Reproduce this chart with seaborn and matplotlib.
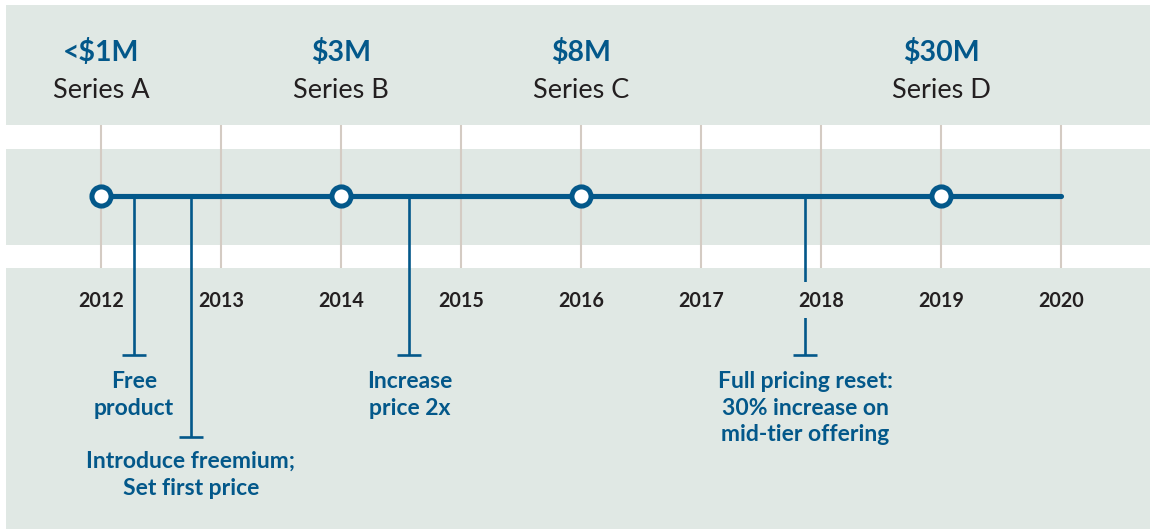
import matplotlib
matplotlib.use("Agg")
import matplotlib.pyplot as plt
import seaborn as sns
import pandas as pd

# ---- data ----
years = [2012, 2013, 2014, 2015, 2016, 2017, 2018, 2019, 2020]
year_labels = ["2012", "2013", "2014", "2015", "2016", "2017", "2018", "2019", "2020"]
funding_years = [2012, 2014, 2016, 2019]
funding_amounts = ["<$1M", "$3M", "$8M", "$30M"]
funding_rounds = ["Series A", "Series B", "Series C", "Series D"]
event_years = [2012.275, 2012.75, 2014.57, 2017.87]
event_labels = ["Free\nproduct", "Introduce freemium;\nSet first price",
                "Increase\nprice 2x", "Full pricing reset:\n30% increase on\nmid-tier offering"]
event_tiers = [1, 2, 1, 1]

# ---- style ----
sns.set_theme(style="white")
plt.rcParams['font.family'] = ['Lato', 'DejaVu Sans']

BLUE = "#03588a"
BAND = "#e0e8e4"
GRID = "#d4cbc3"
DARK = "#231f20"

W, H = 1150, 529
fig = plt.figure(figsize=(W / 100, H / 100), dpi=100)
ax = fig.add_axes([0, 0, 1, 1])
px_per_year = 120.0
x0 = 2012 - 101 / px_per_year
ax.set_xlim(x0, x0 + W / px_per_year)
ax.set_ylim(H, 0)
ax.axis("off")
fig.patch.set_facecolor("white")

# background bands (pixel rows)
xl = x0 + 6 / px_per_year
for top, bot in [(5, 125), (149, 245), (268, 529)]:
    ax.fill_between([xl, x0 + W / px_per_year], top, bot, color=BAND, lw=0, zorder=0)

LINE_Y = 196
# year grid lines
ax.vlines(years, 125, 268, color=GRID, lw=1.5, zorder=1)

# main timeline
df_line = pd.DataFrame({"year": [years[0], years[-1]], "y": [LINE_Y, LINE_Y]})
sns.lineplot(data=df_line, x="year", y="y", ax=ax, color=BLUE, lw=3.7,
             zorder=3, legend=False)
ax.set_xlabel(""); ax.set_ylabel("")

# event stems
tier_end = {1: 355, 2: 437}
for ey, tier in zip(event_years, event_tiers):
    yend = tier_end[tier]
    ax.plot([ey, ey], [LINE_Y, yend], color=BLUE, lw=1.9, zorder=2, solid_capstyle="butt")
    half = 12 / px_per_year
    ax.plot([ey - half, ey + half], [yend, yend], color=BLUE, lw=1.9, zorder=2,
            solid_capstyle="butt")

# funding circles
df_fund = pd.DataFrame({"year": funding_years, "y": [LINE_Y] * len(funding_years)})
sns.scatterplot(data=df_fund, x="year", y="y", ax=ax, s=190, color="white",
                edgecolor=BLUE, linewidth=3.6, zorder=4, legend=False)
ax.set_xlabel(""); ax.set_ylabel("")

# funding labels
for fy, amt, rnd in zip(funding_years, funding_amounts, funding_rounds):
    ax.text(fy, 53, amt, ha="center", va="center", fontsize=20.5, fontweight="bold",
            color=BLUE, zorder=5)
    ax.text(fy, 91, rnd, ha="center", va="center", fontsize=19.5, color=DARK, zorder=5)

# year labels with a band-coloured knockout behind them
half_w = 24 / px_per_year
for yr, lab in zip(years, year_labels):
    ax.fill_between([yr - half_w, yr + half_w], 282, 318, color=BAND, lw=0, zorder=2.5)
    ax.text(yr, 301, lab, ha="center", va="center", fontsize=14.2, fontweight="bold",
            color=DARK, zorder=5)

# event labels
label_top = {1: 371, 2: 451}
for ey, lab, tier in zip(event_years, event_labels, event_tiers):
    ax.text(ey, label_top[tier], lab, ha="center", va="top", fontsize=16.5,
            fontweight="bold", color=BLUE, linespacing=1.33, zorder=5)

fig.savefig("out.png", dpi=100, facecolor="white")
